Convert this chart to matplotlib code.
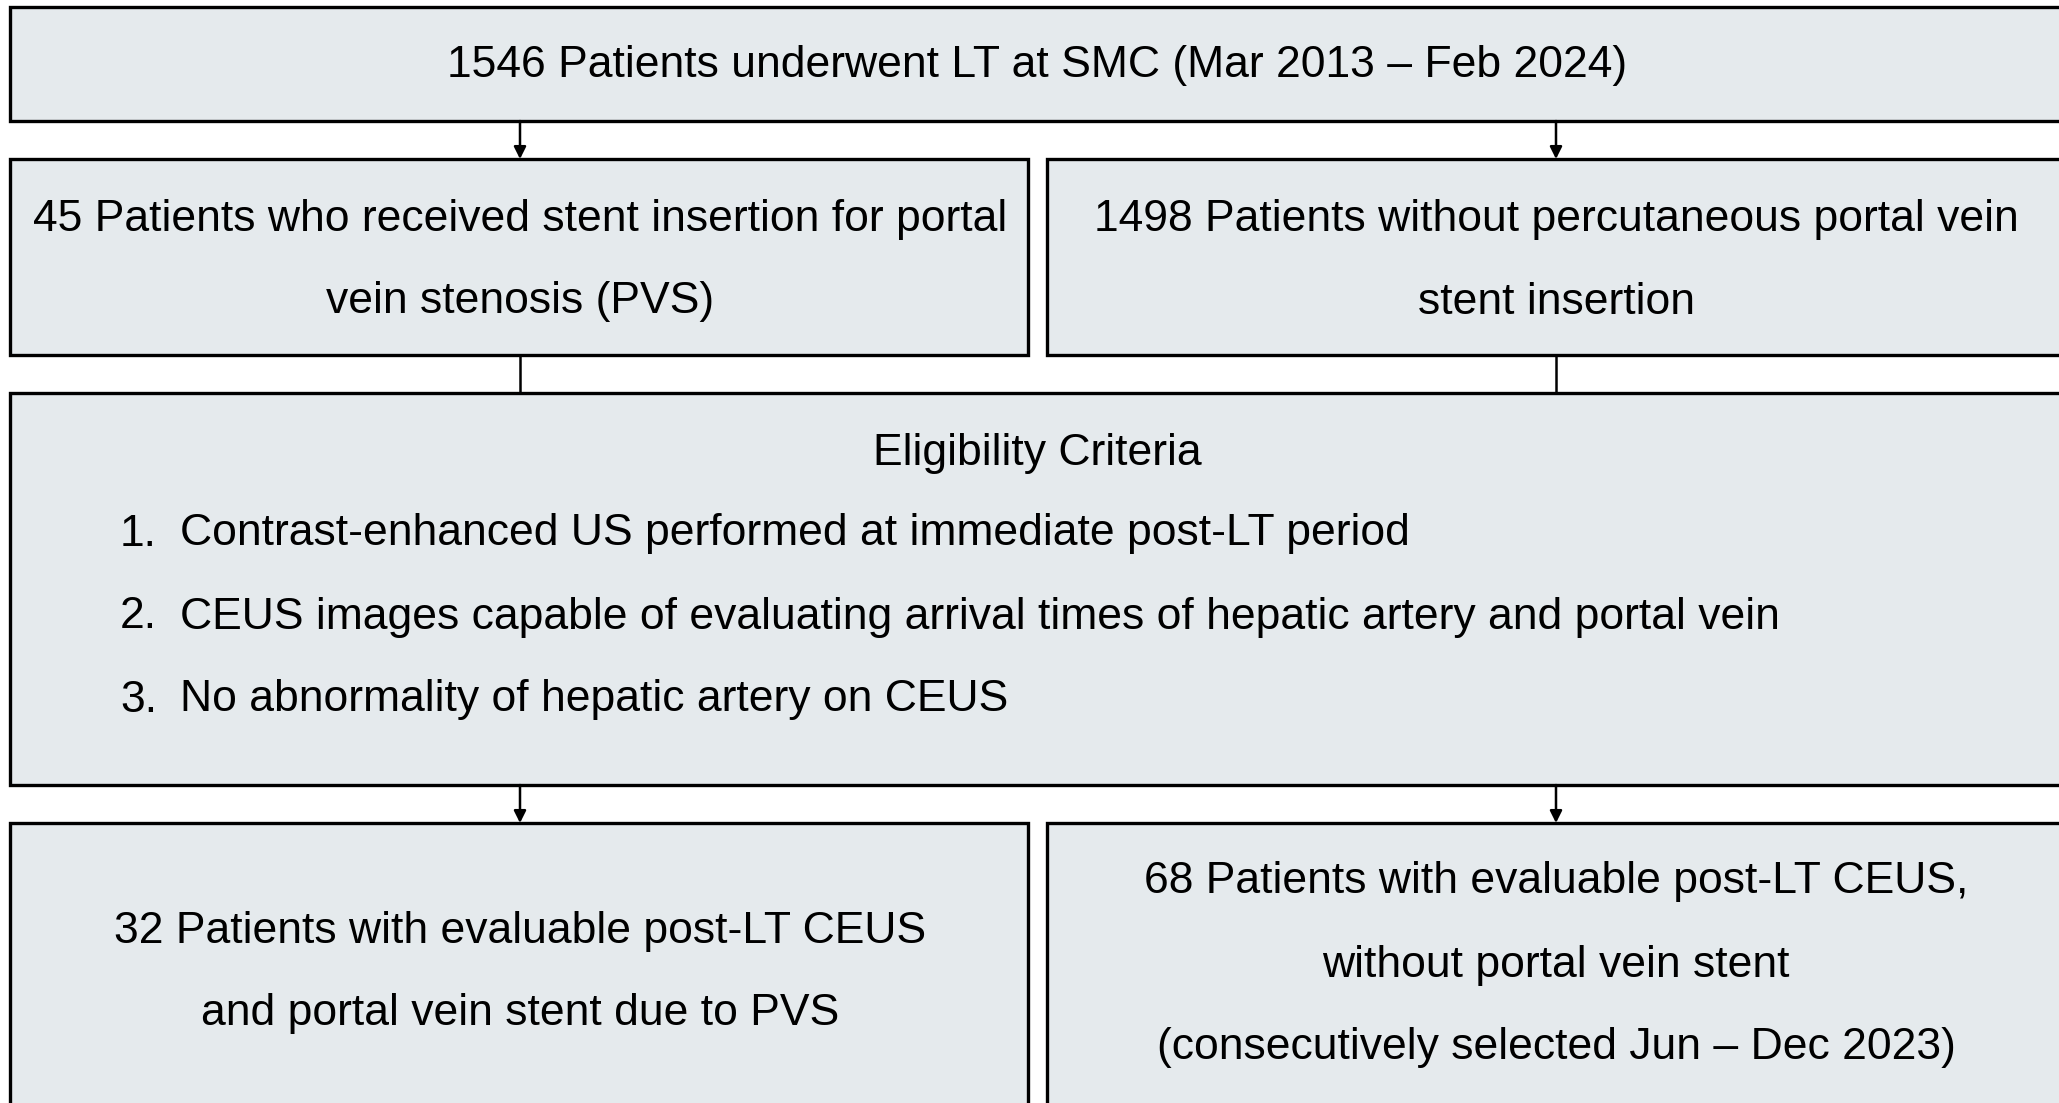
import matplotlib.pyplot as plt
from matplotlib.patches import Rectangle

plt.rcParams['font.family'] = ['Liberation Sans', 'DejaVu Sans']

# texts of the flow diagram
top_text = ['1546 Patients underwent LT at SMC (Mar 2013 \u2013 Feb 2024)']
left_mid = ['45 Patients who received stent insertion for portal', 'vein stenosis (PVS)']
right_mid = ['1498 Patients without percutaneous portal vein', 'stent insertion']
crit_title = 'Eligibility Criteria'
crit_items = ['Contrast-enhanced US performed at immediate post-LT period',
              'CEUS images capable of evaluating arrival times of hepatic artery and portal vein',
              'No abnormality of hepatic artery on CEUS']
left_bot = ['32 Patients with evaluable post-LT CEUS', 'and portal vein stent due to PVS']
right_bot = ['68 Patients with evaluable post-LT CEUS,', 'without portal vein stent',
             '(consecutively selected Jun \u2013 Dec 2023)']

W, H = 2059, 1103
fig = plt.figure(figsize=(W / 100, H / 100), dpi=100)
ax = fig.add_axes([0, 0, 1, 1])
ax.set_xlim(0, W)
ax.set_ylim(H, 0)
ax.axis('off')

fill = '#e5eaed'
lw = 2.4
fs = 32
gap = 83
dy = 4


def box(x0, y0, x1, y1):
    ax.add_patch(Rectangle((x0, y0), x1 - x0, y1 - y0, facecolor=fill,
                           edgecolor='black', linewidth=lw, clip_on=True))


def lines(cx, y0, txts):
    for k, t in enumerate(txts):
        ax.text(cx, y0 + dy + k * gap, t, ha='center', va='center', fontsize=fs)


def arrow(x, y0, y1, head=True):
    if head:
        ax.annotate('', xy=(x, y1), xytext=(x, y0),
                    arrowprops=dict(arrowstyle='-|>', color='black', lw=1.8,
                                    mutation_scale=18, shrinkA=0, shrinkB=0))
    else:
        ax.plot([x, x], [y0, y1], color='black', lw=1.8)


xl, xr = 520, 1556
right_end = 2075

box(10, 7, right_end, 121)
box(10, 159, 1028, 355)
box(1047, 159, right_end, 355)
box(10, 393, right_end, 785)
box(10, 823, 1028, 1120)
box(1047, 823, right_end, 1120)

arrow(xl, 121, 159)
arrow(xr, 121, 159)
arrow(xl, 355, 393, head=False)
arrow(xr, 355, 393, head=False)
arrow(xl, 785, 823)
arrow(xr, 785, 823)

lines(1037, 62, top_text)
lines(xl, 215, left_mid)
lines(xr, 215, right_mid)
ax.text(1037, 449 + dy, crit_title, ha='center', va='center', fontsize=fs)
for k, t in enumerate(crit_items):
    y = 530 + dy + k * gap
    ax.text(157, y, f'{k + 1}.', ha='right', va='center', fontsize=fs)
    ax.text(180, y, t, ha='left', va='center', fontsize=fs)
lines(xl, 927, left_bot)
lines(xr, 878, right_bot)

fig.savefig('out.png', dpi=100)
